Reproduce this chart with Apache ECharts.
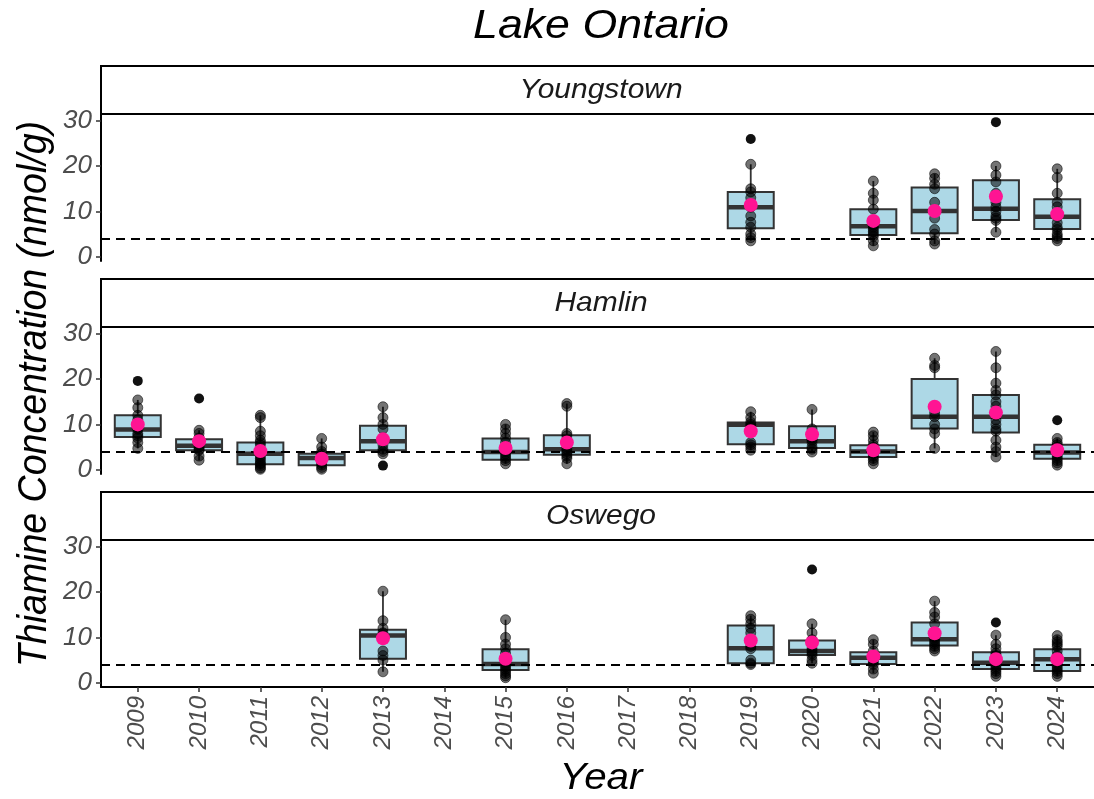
<!DOCTYPE html>
<html>
<head>
<meta charset="utf-8">
<script src="https://cdn.jsdelivr.net/npm/echarts@6/dist/echarts.min.js"></script>
<style>
html,body{margin:0;padding:0;background:#fff;}
#chart{width:1094px;height:799px;}
</style>
</head>
<body>
<div id="chart"></div>
<script>
// ---------------- data ----------------
const years = [2009,2010,2011,2012,2013,2014,2015,2016,2017,2018,2019,2020,2021,2022,2023,2024];
const sites = ['Youngstown','Hamlin','Oswego'];
const yTicks = [0,10,20,30];
const threshold = 4;

// box rows: [year, lowerWhisker, Q1, median, Q3, upperWhisker]
const youngstownBoxes = [
  [2019, 3.5, 6.3, 10.9, 14.3, 20.4],
  [2021, 2.4, 4.8, 6.7, 10.5, 16.7],
  [2022, 2.8, 5.2, 10.1, 15.3, 18.3],
  [2023, 5.4, 8.1, 10.6, 16.9, 20.0],
  [2024, 3.5, 6.1, 8.8, 12.7, 19.4]
];
const hamlinBoxes = [
  [2009, 4.7, 7.2, 8.9, 12.0, 15.4],
  [2010, 2.1, 4.3, 5.3, 6.7, 8.7],
  [2011, 0.1, 1.2, 3.5, 6.0, 12.0],
  [2012, 0.1, 1.0, 2.6, 3.5, 6.9],
  [2013, 3.5, 4.3, 6.3, 9.7, 13.9],
  [2015, 1.3, 2.2, 3.9, 6.9, 10.0],
  [2016, 1.3, 3.3, 4.5, 7.6, 14.6],
  [2019, 4.3, 5.6, 9.9, 10.4, 12.8],
  [2020, 3.9, 4.8, 6.3, 9.6, 13.3],
  [2021, 1.3, 2.8, 4.0, 5.4, 8.3],
  [2022, 4.7, 9.1, 11.7, 20.0, 24.6],
  [2023, 2.8, 8.2, 11.7, 16.5, 26.1],
  [2024, 1.0, 2.4, 3.8, 5.5, 6.9]
];
const oswegoBoxes = [
  [2013, 2.4, 5.3, 10.4, 11.7, 20.2],
  [2015, 1.1, 2.8, 4.1, 7.4, 13.9],
  [2019, 4.0, 4.3, 7.6, 12.6, 14.8],
  [2020, 4.3, 6.1, 7.0, 9.3, 13.0],
  [2021, 2.1, 4.1, 5.5, 6.7, 9.5],
  [2022, 7.0, 8.2, 9.6, 13.3, 18.0],
  [2023, 1.4, 3.0, 4.4, 6.7, 10.5],
  [2024, 1.4, 2.6, 5.2, 7.4, 10.4]
];

// means: [year, mean]
const youngstownMeans = [[2019,11.4],[2021,7.9],[2022,10.1],[2023,13.3],[2024,9.4]];
const hamlinMeans = [[2009,10.0],[2010,6.3],[2011,4.1],[2012,2.4],[2013,6.7],[2015,4.8],[2016,6.0],[2019,8.5],[2020,7.8],[2021,4.3],[2022,13.9],[2023,12.6],[2024,4.3]];
const oswegoMeans = [[2013,9.8],[2015,5.3],[2019,9.3],[2020,8.9],[2021,5.8],[2022,10.9],[2023,5.2],[2024,5.2]];

// outliers: [year, value]
const youngstownOutliers = [[2019,26.0],[2023,29.7]];
const hamlinOutliers = [[2009,19.6],[2010,15.7],[2013,0.9],[2024,10.9]];
const oswegoOutliers = [[2020,25.0],[2023,13.3]];

// individual samples per year
const youngstownSamples = {
  2019: [20.4,15.0,14.3,13.0,11.5,10.9,9.0,7.6,6.5,5.0,4.2,3.5],
  2021: [16.7,14.0,12.5,10.5,7.0,6.5,6.0,5.5,5.0,4.5,3.5,2.4],
  2022: [18.3,17.3,16.0,15.0,12.0,10.1,8.5,6.0,5.0,3.5,2.8],
  2023: [20.0,18.0,16.5,14.0,13.0,12.0,11.0,10.0,9.0,8.5,8.0,5.4],
  2024: [19.4,17.5,14.0,12.0,11.0,9.5,8.8,7.5,6.5,6.0,5.0,4.5,4.0,3.5]
};
const hamlinSamples = {
  2009: [15.4,13.7,12.0,11.0,10.0,9.2,8.9,8.0,7.5,7.0,6.0,4.7],
  2010: [8.7,8.0,7.0,6.5,5.5,5.0,4.5,4.3,3.0,2.1],
  2011: [12.0,11.5,8.5,7.5,6.5,6.0,5.5,4.5,4.0,3.5,3.0,2.5,2.0,1.5,1.2,0.8,0.4,0.1],
  2012: [6.9,5.0,4.0,3.5,3.0,2.6,2.0,1.5,1.0,0.5,0.1],
  2013: [13.9,11.5,10.0,9.0,7.0,6.3,5.5,4.5,4.0,3.5],
  2015: [10.0,9.0,8.0,7.0,6.0,5.0,4.0,3.5,3.0,2.5,2.0,1.3],
  2016: [14.6,14.0,8.0,7.5,6.5,5.5,4.5,4.0,3.5,3.0,2.5,1.3],
  2019: [12.8,11.5,10.5,10.0,9.5,9.0,6.0,5.5,5.0,4.3],
  2020: [13.3,9.0,8.0,7.0,6.5,6.0,5.0,4.5,3.9],
  2021: [8.3,7.5,6.5,5.5,5.0,4.5,4.0,3.5,3.0,2.5,2.0,1.3],
  2022: [24.6,23.0,22.5,12.5,11.7,10.0,9.0,8.0,4.7],
  2023: [26.1,22.5,19.1,17.5,16.5,15.0,14.0,13.0,12.0,11.0,10.0,9.0,8.5,6.5,5.0,4.0,2.8],
  2024: [6.9,6.0,5.5,5.0,4.5,4.0,3.5,3.0,2.5,2.0,1.5,1.0]
};
const oswegoSamples = {
  2013: [20.2,13.7,12.0,11.0,10.5,10.0,7.0,6.0,5.0,2.4],
  2015: [13.9,10.0,8.5,7.5,6.5,5.5,4.5,4.0,3.5,3.0,2.5,2.0,1.5,1.1],
  2019: [14.8,14.0,13.0,12.0,11.0,8.0,7.5,5.0,4.3,4.0],
  2020: [13.0,11.0,9.5,8.5,7.5,7.0,6.5,6.0,5.0,4.3],
  2021: [9.5,8.5,7.0,6.0,5.5,5.0,4.5,4.0,3.0,2.1],
  2022: [18.0,15.5,14.5,13.0,11.0,10.0,9.5,9.0,8.5,8.0,7.5,7.0],
  2023: [10.5,8.5,7.5,6.5,6.0,5.5,5.0,4.5,4.0,3.5,3.0,2.5,2.0,1.4],
  2024: [10.4,9.5,9.0,8.5,8.0,7.0,6.0,5.5,5.0,4.5,4.0,3.5,3.0,2.5,2.0,1.4]
};

// --------------- chart -----------------
const boxesBySite = [youngstownBoxes, hamlinBoxes, oswegoBoxes];
const meansBySite = [youngstownMeans, hamlinMeans, oswegoMeans];
const outliersBySite = [youngstownOutliers, hamlinOutliers, oswegoOutliers];
const samplesBySite = [youngstownSamples, hamlinSamples, oswegoSamples];

const FONT = "'Liberation Sans', Arial, sans-serif";
const GRID_LEFT = 101, GRID_W = 1000;
const gridTops = [114, 327, 540];
const GRID_H = 147;
const STRIP_H = 48;
const X_MIN = years[0] - 0.6, X_MAX = years[years.length - 1] + 0.6;
const Y_MIN = -0.95, Y_MAX = 31.5;
const STRETCH = 1.09;

const chart = echarts.init(document.getElementById('chart'), null, {renderer: 'canvas'});

const grids = [], xAxes = [], yAxes = [], series = [], graphics = [];

sites.forEach((site, i) => {
  const last = i === sites.length - 1;
  grids.push({left: GRID_LEFT, top: gridTops[i], width: GRID_W, height: GRID_H, containLabel: false});
  xAxes.push({
    type: 'value', gridIndex: i, min: X_MIN, max: X_MAX,
    splitLine: {show: false},
    axisLine: {show: last, onZero: false, lineStyle: {color: '#000', width: 2}},
    axisTick: {show: last, customValues: years, length: 5, lineStyle: {color: '#333', width: 1.5}},
    axisLabel: {show: last, customValues: years, rotate: 90, margin: 9,
      formatter: v => String(Math.round(v)),
      color: '#4D4D4D', fontSize: 24, fontStyle: 'italic', fontFamily: FONT}
  });
  yAxes.push({
    type: 'value', gridIndex: i, min: Y_MIN, max: Y_MAX,
    splitLine: {show: false},
    axisLine: {show: true, onZero: false, lineStyle: {color: '#000', width: 2}},
    axisTick: {show: true, customValues: yTicks, length: 5, lineStyle: {color: '#333', width: 1.5}},
    axisLabel: {show: true, customValues: yTicks, margin: 9,
      color: '#4D4D4D', fontSize: 26, fontStyle: 'italic', fontFamily: FONT}
  });

  // boxes
  series.push({
    type: 'custom', xAxisIndex: i, yAxisIndex: i, z: 2,
    data: boxesBySite[i],
    renderItem: (params, api) => {
      const x = api.value(0);
      const lo = api.coord([x, api.value(1)]);
      const q1 = api.coord([x, api.value(2)]);
      const md = api.coord([x, api.value(3)]);
      const q3 = api.coord([x, api.value(4)]);
      const hi = api.coord([x, api.value(5)]);
      const half = api.size([0.75, 0])[0] / 2;
      const cx = lo[0];
      return {
        type: 'group',
        children: [
          {type: 'line', shape: {x1: cx, y1: lo[1], x2: cx, y2: q1[1]}, style: {stroke: '#333', lineWidth: 1.8}},
          {type: 'line', shape: {x1: cx, y1: q3[1], x2: cx, y2: hi[1]}, style: {stroke: '#333', lineWidth: 1.8}},
          {type: 'rect', shape: {x: cx - half, y: q3[1], width: half * 2, height: q1[1] - q3[1]},
            style: {fill: '#ADD8E6', stroke: '#333', lineWidth: 2}},
          {type: 'line', shape: {x1: cx - half, y1: md[1], x2: cx + half, y2: md[1]}, style: {stroke: '#333', lineWidth: 4.5}}
        ]
      };
    }
  });

  // samples
  const pts = [];
  Object.keys(samplesBySite[i]).forEach(yr => {
    samplesBySite[i][yr].forEach(v => pts.push([Number(yr), v]));
  });
  series.push({
    type: 'scatter', xAxisIndex: i, yAxisIndex: i, z: 4,
    data: pts, symbolSize: 10,
    itemStyle: {color: 'rgba(0,0,0,0.55)', borderColor: 'rgba(0,0,0,0.55)', borderWidth: 1, opacity: 1},
    markLine: {
      silent: true, symbol: 'none', animation: false,
      label: {show: false},
      lineStyle: {color: '#000', width: 2, type: [9, 6]},
      data: [{yAxis: threshold}]
    }
  });
  // outliers
  series.push({
    type: 'scatter', xAxisIndex: i, yAxisIndex: i, z: 5,
    data: outliersBySite[i], symbolSize: 10,
    itemStyle: {color: '#111', opacity: 1}
  });
  // means
  series.push({
    type: 'scatter', xAxisIndex: i, yAxisIndex: i, z: 6,
    data: meansBySite[i], symbolSize: 14,
    itemStyle: {color: '#FF1493', opacity: 1}
  });

  // strip
  graphics.push({
    type: 'rect', z: 10,
    shape: {x: GRID_LEFT, y: gridTops[i] - STRIP_H, width: GRID_W + 20, height: STRIP_H},
    style: {fill: '#fff', stroke: '#000', lineWidth: 2}
  });
  graphics.push({
    type: 'text', z: 11, scaleX: 1.07,
    x: GRID_LEFT + GRID_W / 2, y: gridTops[i] - STRIP_H / 2,
    style: {text: site, textAlign: 'center', textVerticalAlign: 'middle',
      font: 'italic 28px ' + FONT, fill: '#1A1A1A'}
  });
});

graphics.push({
  type: 'text', z: 11, scaleX: STRETCH, x: GRID_LEFT + GRID_W / 2, y: 27,
  style: {text: 'Lake Ontario', textAlign: 'center', textVerticalAlign: 'middle',
    font: 'italic 41px ' + FONT, fill: '#000'}
});
graphics.push({
  type: 'text', z: 11, scaleX: STRETCH, x: GRID_LEFT + GRID_W / 2, y: 779,
  style: {text: 'Year', textAlign: 'center', textVerticalAlign: 'middle',
    font: 'italic 37px ' + FONT, fill: '#000'}
});
graphics.push({
  type: 'text', z: 11, x: 35, y: 394, rotation: Math.PI / 2, scaleY: STRETCH,
  style: {text: 'Thiamine Concentration (nmol/g)', textAlign: 'center', textVerticalAlign: 'middle',
    font: 'italic 37.5px ' + FONT, fill: '#000'}
});

chart.setOption({
  animation: false,
  backgroundColor: '#fff',
  grid: grids, xAxis: xAxes, yAxis: yAxes, series: series,
  graphic: {elements: graphics}
});
</script>
</body>
</html>
